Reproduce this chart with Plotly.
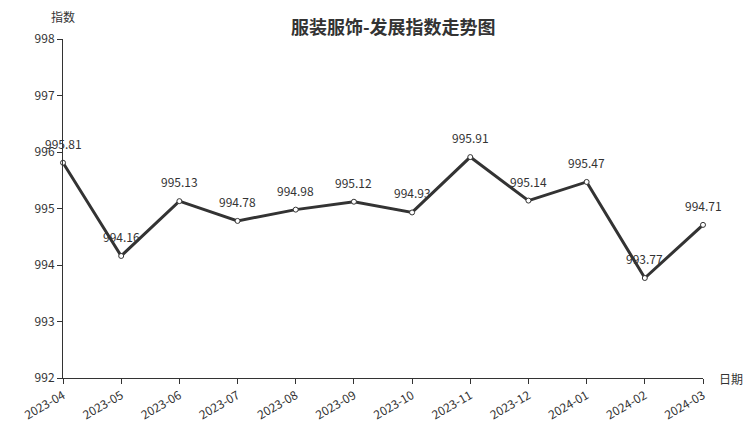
import plotly.graph_objects as go

months = ["2023-04", "2023-05", "2023-06", "2023-07", "2023-08", "2023-09",
          "2023-10", "2023-11", "2023-12", "2024-01", "2024-02", "2024-03"]
values = [995.81, 994.16, 995.13, 994.78, 994.98, 995.12,
          994.93, 995.91, 995.14, 995.47, 993.77, 994.71]
title = "服装服饰-发展指数走势图"
y_title = "指数"
x_title = "日期"

font = "Noto Sans CJK SC"
xs = list(range(len(months)))

fig = go.Figure()
fig.add_trace(go.Scatter(
    x=xs, y=values,
    mode="lines+markers",
    line=dict(color="#333333", width=3),
    marker=dict(size=5, color="white", line=dict(color="#333333", width=1)),
    cliponaxis=False,
    hoverinfo="skip",
))

annotations = [
    dict(x=x, y=v, xref="x", yref="y", text=f"{v:.2f}", showarrow=False,
         xanchor="center", yanchor="bottom", yshift=9,
         font=dict(family=font, size=12, color="#333333"))
    for x, v in zip(xs, values)
]
annotations += [
    dict(text=y_title, x=0, xref="paper", y=1, yref="paper",
         xanchor="center", yanchor="bottom", yshift=12, showarrow=False),
    dict(text=x_title, x=1, xref="paper", y=0, yref="paper",
         xanchor="left", yanchor="middle", xshift=14, showarrow=False),
]

fig.update_layout(
    width=752, height=427,
    margin=dict(l=63, r=49, t=39, b=49),
    paper_bgcolor="white", plot_bgcolor="white",
    showlegend=False,
    font=dict(family=font, size=12, color="#333333"),
    title=dict(text=f"<b>{title}</b>", x=0.523, xanchor="center", y=0.934, yanchor="middle",
               font=dict(family=font, size=18, color="#333333")),
    xaxis=dict(
        tickmode="array", tickvals=xs, ticktext=months,
        range=[0, len(months) - 1], tickangle=-30, automargin=False,
        showline=True, linecolor="#333333", linewidth=1,
        ticks="outside", ticklen=5, tickcolor="#333333",
        showgrid=False, zeroline=False,
        tickfont=dict(family=font, size=12, color="#333333"),
    ),
    yaxis=dict(
        range=[992, 998], dtick=1, automargin=False,
        showline=True, linecolor="#333333", linewidth=1,
        ticks="outside", ticklen=5, tickcolor="#333333",
        showgrid=False, zeroline=False,
        tickfont=dict(family=font, size=12, color="#333333"),
    ),
    annotations=annotations,
)

fig.write_html("out.html", config={"displayModeBar": False},
               post_script="document.body.style.margin='0';")
